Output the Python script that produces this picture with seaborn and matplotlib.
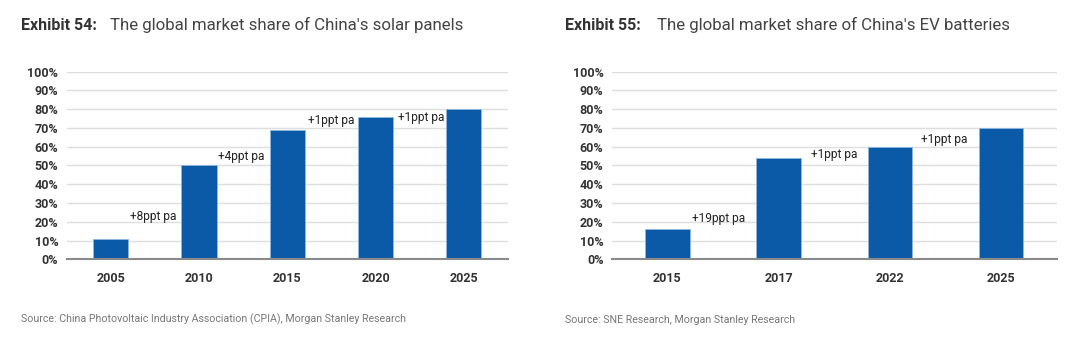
import numpy as np
import pandas as pd
import seaborn as sns
import matplotlib.pyplot as plt
from matplotlib.ticker import PercentFormatter

#%% Data
solar_years = ['2005', '2010', '2015', '2020', '2025']
solar_share = [0.11, 0.50, 0.69, 0.76, 0.80]
solar_notes = ['+8ppt pa', '+4ppt pa', '+1ppt pa', '+1ppt pa']
solar_note_y = [0.23, 0.55, 0.74, 0.755]

ev_years = ['2015', '2017', '2022', '2025']
ev_share = [0.16, 0.54, 0.60, 0.70]
ev_notes = ['+19ppt pa', '+1ppt pa', '+1ppt pa']
ev_note_y = [0.22, 0.56, 0.64]

titles = [('Exhibit 54:', "The global market share of China's solar panels"),
          ('Exhibit 55:', "The global market share of China's EV batteries")]
sources = ['Source: China Photovoltaic Industry Association (CPIA), Morgan Stanley Research',
           'Source: SNE Research, Morgan Stanley Research']

#%% Style
sns.set_style('white')
plt.rcParams['font.family'] = ['Roboto', 'DejaVu Sans']
bar_color = '#0b5aa8'


def draw_panel(ax, years, share, notes, note_y, note_dx):
    df = pd.DataFrame({'year': years, 'share': share})
    sns.barplot(data=df, x='year', y='share', color=bar_color, width=0.4,
                saturation=1, edgecolor='#8fb8e0', linewidth=0.6, ax=ax, zorder=3)
    ax.set_ylim(0, 1.0)
    ax.set_xlim(-0.5, len(years) - 0.5)
    ax.set_yticks(np.arange(0, 1.01, 0.1))
    ax.yaxis.set_major_formatter(PercentFormatter(1.0, decimals=0))
    ax.grid(axis='y', color='#dedede', linewidth=1, zorder=0)
    ax.set_axisbelow(True)
    for s in ['top', 'right', 'left']:
        ax.spines[s].set_visible(False)
    ax.spines['bottom'].set_color('#8a8a8a')
    ax.spines['bottom'].set_linewidth(1.5)
    ax.spines['bottom'].set_zorder(4)
    ax.set_xlabel('')
    ax.set_ylabel('')
    ax.tick_params(axis='both', length=0, colors='#333333', labelsize=9)
    ax.tick_params(axis='x', pad=9)
    ax.tick_params(axis='y', pad=6)
    for lab in ax.get_xticklabels() + ax.get_yticklabels():
        lab.set_fontweight('bold')
    for i, (txt, y) in enumerate(zip(notes, note_y)):
        ax.text(i + note_dx[i], y, txt, ha='left', va='center', fontsize=8.6,
                color='#222222')


fig = plt.figure(figsize=(10.8, 3.59), dpi=100)
ax1 = fig.add_axes([0.0617, 0.2777, 0.4086, 0.5226])
ax2 = fig.add_axes([0.5664, 0.2777, 0.4120, 0.5226])

draw_panel(ax1, solar_years, solar_share, solar_notes, solar_note_y,
           [0.22, 0.21, 0.24, 0.25])
draw_panel(ax2, ev_years, ev_share, ev_notes, ev_note_y,
           [0.22, 0.29, 0.28])

# titles and sources
for (bold, rest), x0, x1, src in zip(titles, [0.019, 0.523], [0.102, 0.608], sources):
    fig.text(x0, 0.93, bold, fontsize=11.5, fontweight='bold', color='#333333',
             va='center')
    fig.text(x1, 0.93, rest, fontsize=12.2, color='#444444', va='center')
    fig.text(x0, 0.11, src, fontsize=7.7, color='#777777', va='center')

fig.savefig('out.png', dpi=100, facecolor='white')
